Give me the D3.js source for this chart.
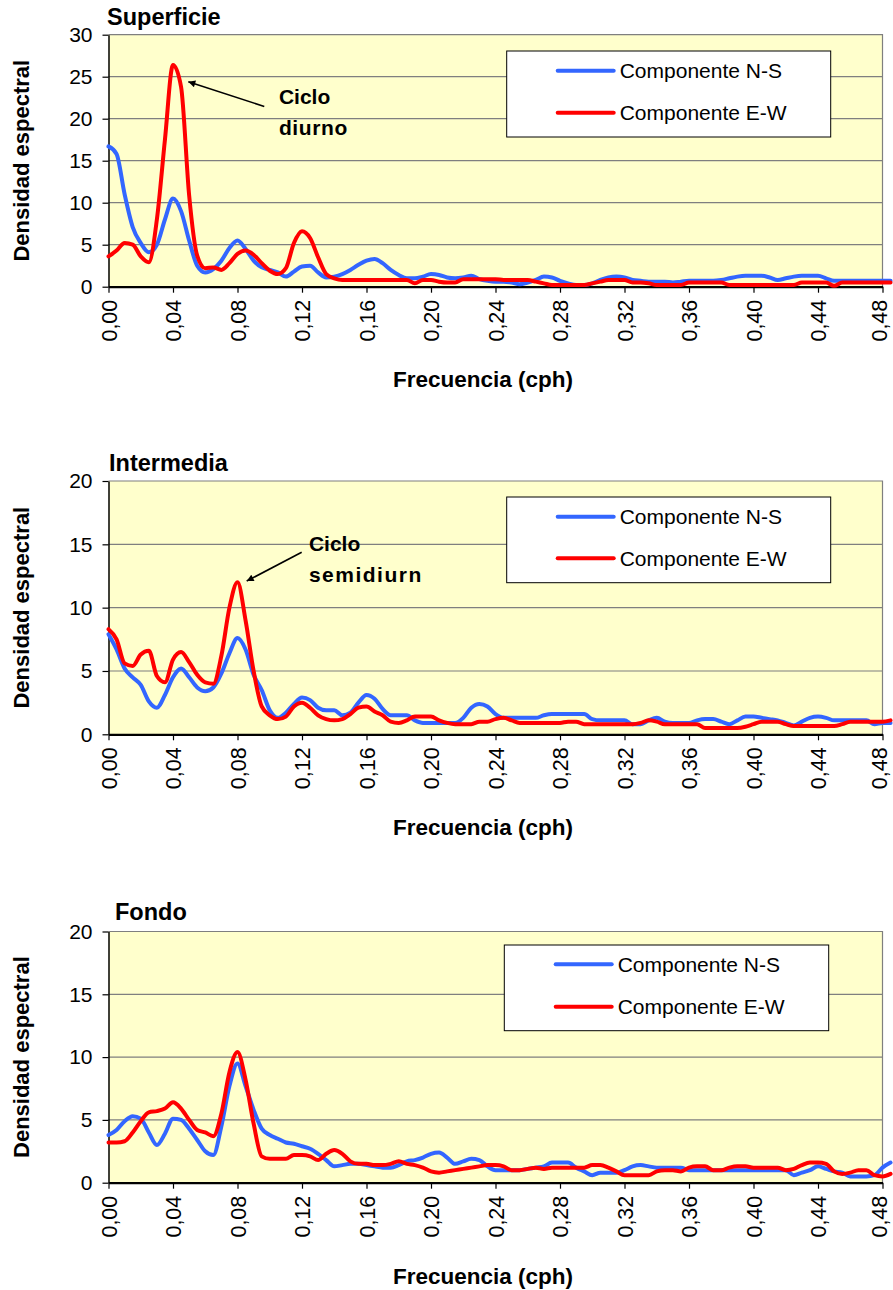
<!DOCTYPE html>
<html><head><meta charset="utf-8">
<script src="https://cdn.jsdelivr.net/npm/d3@7"></script>
<style>
body{margin:0;background:#fff;}
svg{display:block;font-family:Arial,"Liberation Sans",sans-serif;}
</style>
</head><body>
<svg id="chart" width="893" height="1290"></svg>
<script>
// ---------- DATA ----------
const freq = [
 0.000,0.005,0.010,0.015,0.020,0.025,0.030,0.035,0.040,0.045,
 0.050,0.055,0.060,0.065,0.070,0.075,0.080,0.085,0.090,0.095,
 0.100,0.105,0.110,0.115,0.120,0.125,0.130,0.135,0.140,0.145,
 0.150,0.155,0.160,0.165,0.170,0.175,0.180,0.185,0.190,0.195,
 0.200,0.205,0.210,0.215,0.220,0.225,0.230,0.235,0.240,0.245,
 0.250,0.255,0.260,0.265,0.270,0.275,0.280,0.285,0.290,0.295,
 0.300,0.305,0.310,0.315,0.320,0.325,0.330,0.335,0.340,0.345,
 0.350,0.355,0.360,0.365,0.370,0.375,0.380,0.385,0.390,0.395,
 0.400,0.405,0.410,0.415,0.420,0.425,0.430,0.435,0.440,0.445,
 0.450,0.455,0.460,0.465,0.470,0.475,0.480,0.485];

const superficieNS = [
 16.7,15.8,11.0,7.1,5.2,4.1,5.0,8.0,10.5,9.0,
 5.5,2.5,1.7,2.1,3.1,4.6,5.5,4.5,3.1,2.3,
 2.0,1.7,1.2,1.8,2.4,2.5,1.7,1.1,1.2,1.5,
 2.0,2.6,3.1,3.3,2.8,2.0,1.4,1.0,1.0,1.2,
 1.5,1.4,1.1,1.0,1.1,1.3,0.9,0.7,0.6,0.6,
 0.5,0.3,0.5,0.8,1.2,1.1,0.7,0.4,0.2,0.2,
 0.4,0.8,1.1,1.2,1.1,0.8,0.7,0.6,0.6,0.6,
 0.5,0.6,0.7,0.7,0.7,0.7,0.8,1.0,1.2,1.3,
 1.3,1.3,1.1,0.8,1.0,1.2,1.3,1.3,1.3,1.0,
 0.7,0.7,0.7,0.7,0.7,0.7,0.7,0.7];
const superficieEW = [
 3.6,4.3,5.2,5.0,3.6,2.9,8.0,17.5,26.4,23.8,
 10.9,3.7,2.2,2.3,2.0,2.8,3.9,4.3,3.8,2.8,
 1.9,1.5,2.2,5.2,6.6,5.8,3.5,1.5,1.0,0.8,
 0.8,0.8,0.8,0.8,0.8,0.8,0.8,0.8,0.4,0.8,
 0.8,0.6,0.5,0.5,0.9,0.9,0.9,0.9,0.9,0.8,
 0.8,0.8,0.8,0.6,0.4,0.2,0.2,0.2,0.2,0.2,
 0.4,0.6,0.8,0.8,0.8,0.5,0.5,0.4,0.2,0.2,
 0.2,0.2,0.5,0.5,0.5,0.5,0.5,0.2,0.2,0.2,
 0.2,0.2,0.2,0.2,0.2,0.2,0.5,0.5,0.5,0.5,
 0.1,0.5,0.5,0.5,0.5,0.5,0.5,0.5];

const intermediaNS = [
 7.9,6.7,5.2,4.5,3.9,2.6,2.1,3.1,4.5,5.2,
 4.5,3.7,3.4,3.7,4.8,6.4,7.6,6.7,4.7,3.5,
 1.9,1.3,1.7,2.4,2.9,2.7,2.1,1.9,1.9,1.5,
 1.7,2.5,3.1,2.8,2.0,1.5,1.5,1.5,1.1,0.9,
 0.9,0.9,0.9,0.9,1.3,2.1,2.4,2.2,1.6,1.3,
 1.3,1.3,1.3,1.3,1.5,1.6,1.6,1.6,1.6,1.6,
 1.2,1.1,1.1,1.1,1.1,0.8,0.8,1.1,1.3,1.0,
 0.9,0.9,0.9,1.1,1.2,1.2,1.0,0.8,1.1,1.4,
 1.4,1.3,1.2,1.1,0.9,0.7,1.0,1.3,1.4,1.3,
 1.1,1.1,1.1,1.1,1.1,0.8,0.9,0.9];
const intermediaEW = [
 8.3,7.5,5.6,5.4,6.3,6.6,4.6,4.1,5.9,6.5,
 5.7,4.7,4.1,4.0,6.2,10.0,12.0,9.0,5.0,2.2,
 1.5,1.2,1.4,2.2,2.5,2.1,1.5,1.2,1.1,1.2,
 1.6,2.1,2.2,1.8,1.5,1.0,0.9,1.1,1.4,1.4,
 1.4,1.1,0.9,0.8,0.8,0.8,1.0,1.0,1.2,1.3,
 1.1,0.9,0.9,0.9,0.9,0.9,0.9,1.0,1.0,0.8,
 0.8,0.8,0.8,0.8,0.8,0.8,0.9,1.1,1.0,0.8,
 0.8,0.8,0.8,0.8,0.5,0.5,0.5,0.5,0.5,0.6,
 0.8,1.0,1.0,1.0,0.8,0.65,0.65,0.65,0.65,0.65,
 0.65,0.8,1.0,1.0,1.0,1.0,1.0,1.1];

const fondoNS = [
 3.8,4.2,4.9,5.3,5.1,4.0,3.0,3.9,5.1,5.0,
 4.3,3.4,2.5,2.2,4.5,7.7,9.5,7.7,5.8,4.3,
 3.8,3.5,3.2,3.1,2.9,2.7,2.3,1.8,1.3,1.4,
 1.5,1.5,1.4,1.3,1.2,1.2,1.4,1.7,1.8,2.0,
 2.3,2.4,2.0,1.5,1.7,1.9,1.8,1.3,1.0,1.0,
 1.0,1.0,1.1,1.2,1.3,1.6,1.6,1.6,1.2,0.9,
 0.6,0.8,0.8,0.8,1.0,1.3,1.4,1.3,1.2,1.2,
 1.2,1.2,1.0,1.0,1.0,1.0,1.0,1.0,1.0,1.0,
 1.0,1.0,1.0,1.0,1.0,0.6,0.8,1.0,1.3,1.1,
 0.9,0.8,0.5,0.5,0.5,0.6,1.2,1.6];
const fondoEW = [
 3.2,3.2,3.3,4.0,4.9,5.6,5.7,5.9,6.4,5.9,
 5.0,4.2,4.0,3.7,5.5,8.8,10.4,8.2,4.7,2.1,
 1.9,1.9,1.9,2.2,2.2,2.1,1.8,2.3,2.6,2.3,
 1.7,1.5,1.5,1.4,1.4,1.5,1.7,1.5,1.4,1.2,
 0.9,0.8,0.9,1.0,1.1,1.2,1.3,1.4,1.4,1.3,
 1.0,1.0,1.1,1.2,1.1,1.2,1.2,1.2,1.2,1.2,
 1.4,1.4,1.2,0.9,0.6,0.6,0.6,0.6,0.9,1.0,
 1.0,0.9,1.2,1.3,1.3,1.0,1.0,1.2,1.3,1.3,
 1.2,1.2,1.2,1.2,1.0,1.1,1.4,1.6,1.6,1.5,
 0.9,0.7,0.8,1.0,1.0,0.6,0.5,0.7];

const xTickValues = [0,0.04,0.08,0.12,0.16,0.20,0.24,0.28,0.32,0.36,0.40,0.44,0.48];
const yTicksSuperficie = [0,5,10,15,20,25,30];
const yTicksOther = [0,5,10,15,20];
const seriesNames = ["Componente N-S","Componente E-W"];
const panelTitles = ["Superficie","Intermedia","Fondo"];
const xTitle = "Frecuencia (cph)";
const yTitle = "Densidad espectral";

// annotations in data space: tip, tail, text anchor
const annotations = [
  {panel:0, lines:["Ciclo","diurno"], tip:[0.0495,24.4], tail:[0.0966,21.46], text:[0.1057,21.75], spacing:0.6},
  {panel:1, lines:["Ciclo","semidiurn"], tip:[0.0857,12.1], tail:[0.1198,14.37], text:[0.1243,14.47], spacing:1.5}
];

// ---------- LAYOUT ----------
const X0 = 108.5, X1 = 882.5;
const colors = {ns:"#3366FF", ew:"#FF0000"};
const panels = [
  {title:panelTitles[0], ns:superficieNS, ew:superficieEW, yMax:30, yTicks:yTicksSuperficie,
   top:34.7, bottom:286.7, titleX:107, titleY:25, legend:{x:506.7,y:51,w:324,h:86,l1:70.7,l2:112.7,lx:557.7}, xTitleY:387},
  {title:panelTitles[1], ns:intermediaNS, ew:intermediaEW, yMax:20, yTicks:yTicksOther,
   top:481, bottom:734.3, titleX:109, titleY:470.5, legend:{x:506.7,y:497,w:324,h:85.7,l1:516.7,l2:558.3,lx:557.7}, xTitleY:835},
  {title:panelTitles[2], ns:fondoNS, ew:fondoEW, yMax:20, yTicks:yTicksOther,
   top:931.5, bottom:1182.7, titleX:115, titleY:919.5, legend:{x:504.3,y:945,w:324.4,h:85.7,l1:964.3,l2:1006.7,lx:555.7}, xTitleY:1284}
];

const svg = d3.select("#chart");
const defs = svg.append("defs");
defs.append("marker").attr("id","arrow").attr("viewBox","0 0 10 10")
  .attr("refX",10).attr("refY",5).attr("markerWidth",9).attr("markerHeight",7)
  .attr("markerUnits","userSpaceOnUse").attr("orient","auto")
  .append("path").attr("d","M0,0L10,5L0,10z").attr("fill","#000");

const x = d3.scaleLinear().domain([0,0.48]).range([X0,X1]);
const fmtX = d => d3.format(".2f")(d).replace(".",",");
const lastTick = xTickValues[xTickValues.length-1];

panels.forEach((p,pi) => {
  const y = d3.scaleLinear().domain([0,p.yMax]).range([p.bottom,p.top]);
  const g = svg.append("g");

  g.append("rect").attr("x",X0).attr("y",p.top).attr("width",X1-X0).attr("height",p.bottom-p.top)
    .attr("fill","#FFFFCC");

  g.append("g").selectAll("line").data(p.yTicks.filter(d=>d>0 && d<p.yMax)).join("line")
    .attr("x1",X0).attr("x2",X1).attr("y1",d=>y(d)).attr("y2",d=>y(d))
    .attr("stroke","#7F7F7F").attr("stroke-width",1.2);

  g.append("path").attr("d",`M${X0},${p.top}H${X1}V${p.bottom}`)
    .attr("fill","none").attr("stroke","#7F7F7F").attr("stroke-width",1.2);

  // y axis
  const ya = g.append("g").attr("transform",`translate(${X0},0)`)
    .call(d3.axisLeft(y).tickValues(p.yTicks).tickSize(6).tickSizeOuter(0).tickPadding(10).tickFormat(d3.format("d")));
  ya.select(".domain").attr("stroke","#000").attr("stroke-width",1.5);
  ya.selectAll(".tick line").attr("stroke","#000").attr("stroke-width",1.2);
  ya.selectAll("text").attr("font-size",21).attr("fill","#000").attr("font-family","Arial, 'Liberation Sans', sans-serif");

  // x axis
  const xa = g.append("g").attr("transform",`translate(0,${p.bottom})`)
    .call(d3.axisBottom(x).tickValues(xTickValues).tickSize(6).tickSizeOuter(0).tickFormat(fmtX));
  xa.select(".domain").attr("stroke","#000").attr("stroke-width",2.2);
  xa.selectAll(".tick line").attr("stroke","#000").attr("stroke-width",1.2);
  xa.selectAll("text").attr("font-size",21.5).attr("fill","#000")
    .attr("font-family","Arial, 'Liberation Sans', sans-serif")
    .attr("transform","rotate(-90)").attr("text-anchor","end")
    .attr("x",-13).attr("y",0).attr("dy",d => d===lastTick ? "0.18em" : "0.36em");

  // series
  const line = d3.line().x((d,i)=>x(freq[i])).y(d=>y(d)).curve(d3.curveMonotoneX);
  [["ns",p.ns],["ew",p.ew]].forEach(([k,vals]) => {
    g.append("path").datum(vals).attr("d",line).attr("fill","none")
      .attr("stroke",colors[k]).attr("stroke-width",4).attr("stroke-linejoin","round").attr("stroke-linecap","round");
  });

  // titles
  g.append("text").attr("x",p.titleX).attr("y",p.titleY).attr("font-size",23.5).attr("font-weight","bold")
    .attr("fill","#000").text(p.title);
  g.append("text").attr("x",483).attr("y",p.xTitleY).attr("text-anchor","middle")
    .attr("font-size",22.5).attr("font-weight","bold").attr("fill","#000").text(xTitle);
  const cy = (p.top+p.bottom)/2;
  g.append("text").attr("transform",`translate(29,${cy}) rotate(-90)`).attr("text-anchor","middle")
    .attr("font-size",22).attr("font-weight","bold").attr("fill","#000").text(yTitle);

  // legend
  const L = p.legend;
  const lg = g.append("g");
  lg.append("rect").attr("x",L.x).attr("y",L.y).attr("width",L.w).attr("height",L.h)
    .attr("fill","#fff").attr("stroke","#000").attr("stroke-width",1);
  [[L.l1,"ns",seriesNames[0]],[L.l2,"ew",seriesNames[1]]].forEach(([ly,k,name]) => {
    lg.append("line").attr("x1",L.lx).attr("x2",L.lx+56).attr("y1",ly).attr("y2",ly)
      .attr("stroke",colors[k]).attr("stroke-width",4).attr("stroke-linecap","round");
    lg.append("text").attr("x",L.lx+62).attr("y",ly).attr("dy","0.36em").attr("font-size",21)
      .attr("fill","#000").text(name);
  });

  // annotations
  annotations.filter(a=>a.panel===pi).forEach(a => {
    g.append("line").attr("x1",x(a.tail[0])).attr("y1",y(a.tail[1]))
      .attr("x2",x(a.tip[0])).attr("y2",y(a.tip[1]))
      .attr("stroke","#000").attr("stroke-width",1.6).attr("marker-end","url(#arrow)");
    a.lines.forEach((t,i) => {
      g.append("text").attr("x",x(a.text[0])).attr("y",y(a.text[1])+i*31)
        .attr("font-size",21).attr("font-weight","bold").attr("letter-spacing",i===1?a.spacing:0)
        .attr("fill","#000").text(t);
    });
  });
});
</script>
</body></html>
